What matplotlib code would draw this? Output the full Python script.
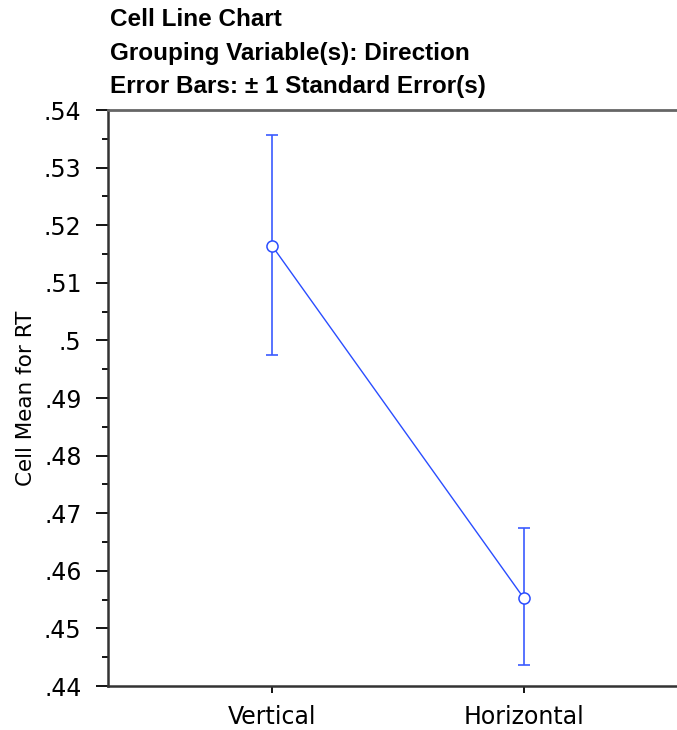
import matplotlib
matplotlib.use("Agg")
import matplotlib.pyplot as plt
from matplotlib.ticker import MultipleLocator, FuncFormatter

# cell means for RT with +/- 1 standard error
groups = ["Vertical", "Horizontal"]
means = [0.5164, 0.4553]
upper = [0.5356, 0.4675]
lower = [0.4974, 0.4437]

title_lines = ["Cell Line Chart",
               "Grouping Variable(s): Direction",
               "Error Bars: \u00b1 1 Standard Error(s)"]

plt.rcParams['font.family'] = ['DejaVu Sans']

fig = plt.figure(figsize=(6.77, 7.3), dpi=100)
ax = fig.add_axes([108 / 677, 1 - 686 / 730, 1 - 108 / 677, (686 - 110) / 730])

x = list(range(len(groups)))
err_lo = [m - l for m, l in zip(means, lower)]
err_hi = [u - m for m, u in zip(means, upper)]

ax.errorbar(x, means, yerr=[err_lo, err_hi], fmt='none', ecolor='#3b5bff',
            elinewidth=1.2, capsize=4.5, capthick=1.2, zorder=2)
ax.plot(x, means, '-', color='#2a4dff', linewidth=1, zorder=3)
ax.plot(x, means, 'o', markersize=8, markerfacecolor='white',
        markeredgecolor='#2a4dff', markeredgewidth=1.1, zorder=4)

ax.set_ylim(0.44, 0.54)
ax.set_xlim(-0.653, 1.61)
ax.yaxis.set_major_locator(MultipleLocator(0.01))
ax.yaxis.set_minor_locator(MultipleLocator(0.005))

def fmt(v, pos):
    s = f"{v:.2f}".rstrip('0')
    return s[1:] if s.startswith('0') else s

ax.yaxis.set_major_formatter(FuncFormatter(fmt))
ax.set_xticks(x)
ax.set_xticklabels(groups)

ax.tick_params(axis='y', which='major', length=9, width=1.3, labelsize=17, pad=10)
ax.tick_params(axis='y', which='minor', length=4.5, width=1.3)
ax.tick_params(axis='x', length=5, width=1.3, labelsize=17, pad=9)

ax.spines['right'].set_visible(False)
ax.spines['top'].set_color('#666666')
ax.spines['top'].set_linewidth(2)
ax.spines['left'].set_color('#333333')
ax.spines['left'].set_linewidth(1.8)
ax.spines['bottom'].set_color('#333333')
ax.spines['bottom'].set_linewidth(1.8)

ax.set_ylabel("Cell Mean for RT", fontsize=15.5, labelpad=6)

for i, line in enumerate(title_lines):
    fig.text(110 / 677, 1 - (20 + 33.5 * i) / 730, line, fontsize=17.5,
             family=['Liberation Sans', 'DejaVu Sans'],
             fontweight='bold', va='center', ha='left')

fig.savefig("out.png", dpi=100)
